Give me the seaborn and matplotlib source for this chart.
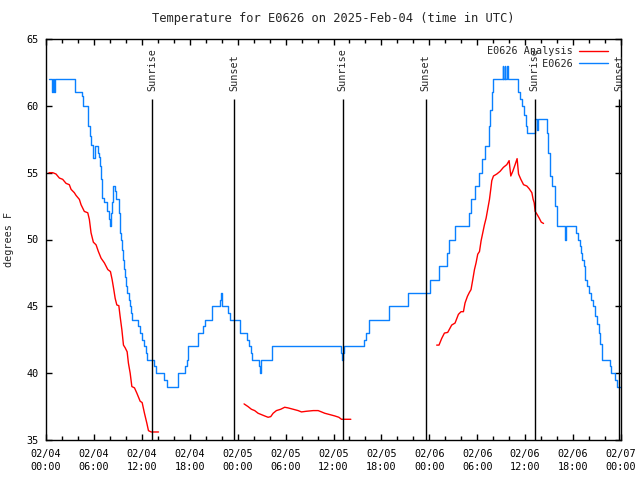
import numpy as np
import pandas as pd
import matplotlib
matplotlib.use('Agg')
import matplotlib.pyplot as plt
import matplotlib.dates as mdates
import seaborn as sns

start = pd.Timestamp('2025-02-04 00:00')

# E0626 observed temps (hours since start, degrees F)
blue_hours = [0.38, 0.7, 0.85, 0.95, 1.1, 3.64, 4.52, 4.64, 5.2, 5.45, 5.6, 5.86, 6.18, 6.49, 6.69, 6.81,
              6.9, 7.02, 7.31, 7.61, 7.87, 8.03, 8.15, 8.28, 8.44, 8.66, 8.78, 9.12, 9.28, 9.32, 9.41, 9.53,
              9.66, 9.78, 9.91, 10.04, 10.16, 10.35, 10.54, 10.66, 10.79, 11.54, 11.79, 12.04, 12.29, 12.48,
              12.67, 13.55, 13.8, 14.8, 15.18, 16.56, 17.44, 17.62, 17.81, 19.07, 19.69, 19.94, 20.82, 21.83,
              21.95, 22.1, 22.83, 23.08, 24.34, 25.21, 25.46, 25.71, 25.84, 26.72, 26.84, 26.93, 28.35, 37.0,
              37.09, 37.17, 37.32, 39.76, 40.02, 40.39, 42.9, 45.28, 48.04, 49.17, 50.18, 50.43, 51.18, 52.94,
              53.19, 53.69, 54.19, 54.57, 54.94, 55.44, 55.63, 55.82, 55.94, 57.18, 57.24, 57.46, 57.52, 57.74,
              57.8, 59.08, 59.33, 59.58, 59.84, 60.09, 60.21, 61.22, 61.47, 61.6, 62.72, 62.85, 63.1, 63.35,
              63.73, 63.98, 64.98, 65.1, 66.36, 66.61, 66.86, 66.99, 67.17, 67.36, 67.49, 67.74, 67.99, 68.24,
              68.49, 68.74, 68.99, 69.24, 69.43, 69.62, 70.62, 70.74, 71.25, 71.44, 72.0]
blue_temps = [62, 61, 62, 61, 62, 61, 60.75, 60, 58.5, 57.75, 57.1, 56.1, 57, 56.5, 56.2, 55.5,
              54.5, 53.1, 52.8, 52.1, 51.5, 51, 52, 52.8, 54, 53.6, 53, 52, 51.5, 50.5, 50, 49.2,
              48.5, 47.8, 47.2, 46.5, 46, 45.5, 45, 44.5, 44, 43.5, 43, 42.5, 42, 41.5,
              41, 40.5, 40, 39.5, 39, 40, 40.5, 41, 42, 43, 43.5, 44, 45, 45.5,
              46, 45, 44.5, 44, 43, 42.5, 42, 41.5, 41, 40.5, 40, 41, 42, 41.5,
              41, 41.5, 42, 42.5, 43, 44, 45, 46, 47, 48, 49, 50, 51, 52,
              53, 54, 55, 56, 57, 58.5, 59.7, 61, 62, 63, 62, 63, 62, 63,
              62, 61, 60.5, 60, 59.3, 58.5, 58, 59, 58.2, 59, 58, 56.5, 54.75, 54,
              52.5, 51, 50, 51, 50.5, 50, 49.5, 49, 48.5, 48, 47, 46.5, 46, 45.5,
              45, 44.3, 43.7, 43, 42.2, 41, 40.5, 40, 39.5, 39, 39]

# E0626 Analysis (three separate runs)
red1_hours = [0.38, 0.84, 1.25, 1.67, 2.09, 2.51, 2.92, 3.14, 3.55, 3.76, 4.18, 4.39, 4.8, 5.23, 5.43,
              5.64, 5.93, 6.27, 6.56, 6.9, 7.31, 7.74, 8.07, 8.28, 8.49, 8.66, 8.87, 9.12, 9.28, 9.5, 9.7,
              9.91, 10.16, 10.32, 10.54, 10.75, 11.08, 11.38, 11.79, 12.04, 12.33, 12.63, 12.83, 13.17, 14.09]
red1_temps = [55.0, 55.0, 54.9, 54.6, 54.5, 54.2, 54.1, 53.75, 53.5, 53.3, 53, 52.6, 52.1, 52, 51.5,
              50.5, 49.8, 49.6, 49.1, 48.6, 48.25, 47.75, 47.6, 47, 46.25, 45.6, 45.1, 45.05, 44.25, 43.25, 42.1,
              41.9, 41.6, 40.75, 40, 39, 38.9, 38.5, 37.9, 37.8, 37, 36.25, 35.7, 35.6, 35.6]
red2_hours = [24.8, 25.3, 25.72, 26.13, 26.56, 26.97, 27.38, 27.81, 28.14, 28.44, 28.85, 29.39, 29.89,
              30.32, 30.95, 31.57, 31.99, 32.61, 33.46, 34.08, 34.5, 34.91, 35.54, 36.16, 36.67, 37.0, 38.17]
red2_temps = [37.7, 37.5, 37.3, 37.2, 37, 36.9, 36.8, 36.7, 36.75, 37, 37.2, 37.3, 37.45,
              37.4, 37.3, 37.2, 37.1, 37.15, 37.2, 37.2, 37.1, 37, 36.9, 36.8, 36.7, 36.55, 36.55]
red3_hours = [48.92, 49.21, 49.55, 49.89, 50.3, 50.8, 51.22, 51.64, 51.97, 52.27, 52.47, 52.77, 53.02,
              53.22, 53.44, 53.65, 53.85, 54.06, 54.28, 54.48, 54.69, 54.9, 55.11, 55.32, 55.53, 55.7,
              55.82, 56.03, 56.45, 56.86, 57.28, 57.7, 57.99, 58.2, 58.45, 58.74, 58.99, 59.17, 59.46,
              59.8, 60.21, 60.5, 60.84, 61.0, 61.13, 61.25, 61.47, 61.76, 62.01, 62.3]
red3_temps = [42.1, 42.1, 42.6, 43, 43.05, 43.6, 43.75, 44.4, 44.6, 44.6, 45.25, 45.75, 46.05,
              46.25, 47, 47.75, 48.25, 48.9, 49.1, 49.9, 50.5, 51.1, 51.6, 52.3, 53, 53.8,
              54.4, 54.75, 54.9, 55.1, 55.4, 55.6, 55.9, 54.75, 55.1, 55.6, 56.05, 54.9, 54.5,
              54.1, 54, 53.8, 53.5, 53, 52.75, 52.1, 51.9, 51.6, 51.3, 51.2]

sun_hours = [13.3, 23.58, 37.13, 47.54, 61.21, 71.75]
sun_labels = ['Sunrise', 'Sunset', 'Sunrise', 'Sunset', 'Sunrise', 'Sunset']

sns.set_style('ticks')
plt.rcParams['font.family'] = ['DejaVu Sans Mono']
plt.rcParams['font.size'] = 7.3

blue = pd.DataFrame({'time': start + pd.to_timedelta(blue_hours, unit='h'), 'temp': blue_temps})
red = pd.concat([
    pd.DataFrame({'hours': h, 'temp': t, 'run': i})
    for i, (h, t) in enumerate([(red1_hours, red1_temps), (red2_hours, red2_temps), (red3_hours, red3_temps)])
])
red['time'] = start + pd.to_timedelta(red['hours'], unit='h')

fig = plt.figure(figsize=(6.4, 4.8), dpi=100)
ax = fig.add_axes([46 / 640, 1 - 440 / 480, 575 / 640, 401 / 480])

sns.lineplot(data=red, x='time', y='temp', units='run', estimator=None, color='#ff0000',
             lw=1, label='E0626 Analysis', ax=ax)
sns.lineplot(data=blue, x='time', y='temp', color='#0a80ff', drawstyle='steps-post',
             lw=1, label='         E0626', ax=ax)

sun_times = start + pd.to_timedelta(sun_hours, unit='h')
ax.vlines(sun_times, 35, 60.5, color='black', lw=1)
for t, lab in zip(sun_times, sun_labels):
    ax.text(t, 61.1, lab, rotation=90, ha='center', va='bottom')

ax.set_xlim(start, start + pd.Timedelta(hours=72))
ax.set_ylim(35, 65)
ax.set_yticks(np.arange(35, 66, 5))
ax.xaxis.set_major_locator(mdates.HourLocator(byhour=[0, 6, 12, 18]))
ax.xaxis.set_minor_locator(mdates.HourLocator(byhour=range(0, 24, 2)))
ax.xaxis.set_major_formatter(mdates.DateFormatter('%m/%d\n%H:%M'))
ax.tick_params(which='both', direction='in', top=True, right=True, width=1, colors='black')
ax.tick_params(which='major', length=4.5, pad=6.5)
ax.tick_params(which='minor', length=3)
ax.tick_params(axis='y', pad=5)
for s in ax.spines.values():
    s.set_color('black')
    s.set_linewidth(1)

ax.set_xlabel('')
ax.set_ylabel('degrees F', labelpad=9)
ax.set_title('Temperature for E0626 on 2025-Feb-04 (time in UTC)', pad=12)

# one legend entry per series
handles, labels = ax.get_legend_handles_labels()
seen = {}
for h, l in zip(handles, labels):
    seen.setdefault(l, h)
ax.legend(list(seen.values()), list(seen.keys()), loc='upper right', bbox_to_anchor=(0.982, 0.99),
          frameon=False, markerfirst=False, handlelength=2.8, borderaxespad=0, borderpad=0.3,
          labelspacing=0.25, handletextpad=0.6)

fig.canvas.draw()
for t in ax.get_xticklabels():
    t.set_linespacing(1.35)

fig.savefig('out.png', dpi=100)
